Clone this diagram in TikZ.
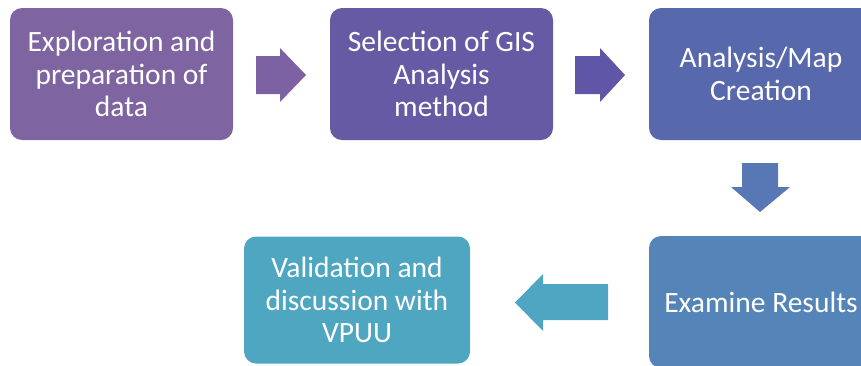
\documentclass[tikz,border=0pt]{standalone}
\usepackage{fontspec}
\setmainfont{Carlito}
\definecolor{cA}{HTML}{7E64A0}
\definecolor{cB}{HTML}{675AA4}
\definecolor{cC}{HTML}{5868AD}
\definecolor{cD}{HTML}{5584B8}
\definecolor{cE}{HTML}{4FA6C1}
\definecolor{aA}{HTML}{7C62A3}
\definecolor{aB}{HTML}{6056A8}
\definecolor{aC}{HTML}{5877B5}
\definecolor{aD}{HTML}{4EA6C3}
\tikzset{
  stepbox/.style={rectangle, rounded corners=12pt, minimum width=224pt, minimum height=132pt,
    inner sep=0pt, outer sep=0pt, text=white, align=center,
    font=\fontsize{29.5}{32.5}\selectfont},
}
\begin{document}
\begin{tikzpicture}[x=1pt,y=-1pt]
\useasboundingbox (0,0) rectangle (861,365);
\clip (0,0) rectangle (861,365);
\node[stepbox, fill=cA, minimum width=223pt] (b1) at (121.5,74) {Exploration and\\preparation of\\data};
\node[stepbox, fill=cB, minimum width=223pt] (b2) at (441.5,74) {Selection of GIS\\Analysis\\method};
\node[stepbox, fill=cC] (b3) at (761,74) {Analysis/Map\\Creation};
\node[stepbox, fill=cD] (b4) at (761,302) {Examine Results};
\node[stepbox, fill=cE, minimum width=226pt, minimum height=127pt] (b5) at (357,300) {Validation and\\discussion with\\VPUU};
% right arrow 1
\fill[aA] (256,56) -- (280,56) -- (280,48) -- (306,75) -- (280,102) -- (280,94) -- (256,94) -- cycle;
% right arrow 2
\fill[aB] (575,56) -- (600,56) -- (600,48) -- (625,75) -- (600,102) -- (600,94) -- (575,94) -- cycle;
% down arrow
\fill[aC] (742,163) -- (778,163) -- (778,187) -- (790,187) -- (760,212) -- (731,187) -- (742,187) -- cycle;
% left arrow
\fill[aD] (608,284) -- (543,284) -- (543,274) -- (515,302.5) -- (543,331) -- (543,320) -- (608,320) -- cycle;
\end{tikzpicture}
\end{document}
